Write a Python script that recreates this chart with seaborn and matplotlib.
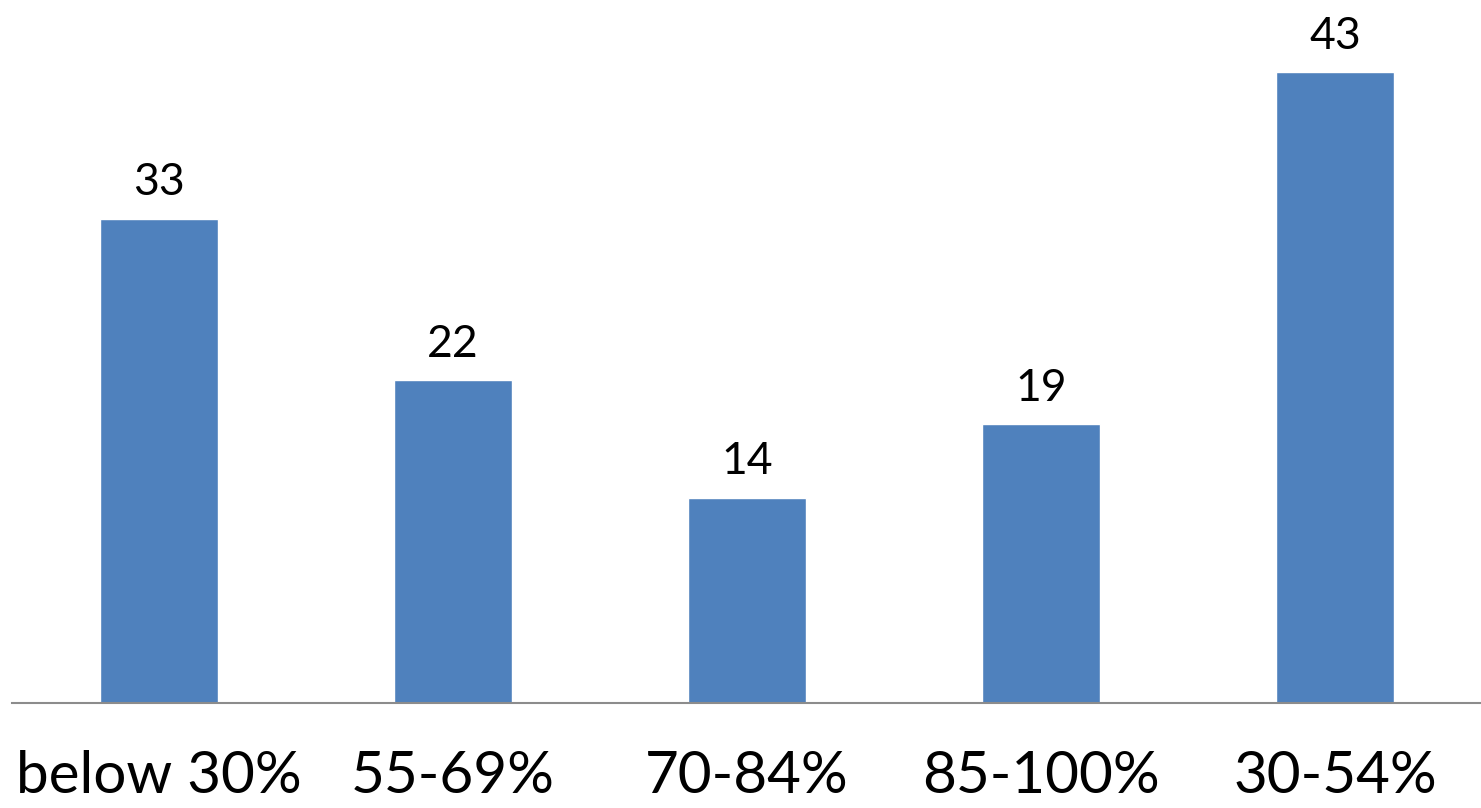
import seaborn as sns
import matplotlib.pyplot as plt
import pandas as pd

# categories in the order shown on the slide
categories = ["below 30%", "55-69%", "70-84%", "85-100%", "30-54%"]
counts = [33, 22, 14, 19, 43]

df = pd.DataFrame({"group": categories, "count": counts})

sns.set_style("white")
plt.rcParams["font.family"] = ["Lato", "DejaVu Sans"]
plt.rcParams["text.color"] = "black"
plt.rcParams["xtick.color"] = "black"

fig = plt.figure(figsize=(14.81, 8.08), dpi=100)
ax = fig.add_axes([12 / 1481, 105 / 808, 1470 / 1481, 703 / 808])

sns.barplot(data=df, x="group", y="count", color="#4F81BD",
            saturation=1, width=0.4, ax=ax)

ax.bar_label(ax.containers[0], fontsize=32, padding=11, color="black")

ax.set_xlim(-0.5, 4.5)
ax.set_ylim(0, 47.9)
ax.set_xlabel("")
ax.set_ylabel("")
ax.set_yticks([])
ax.tick_params(axis="x", length=0, labelsize=42, pad=34, labelcolor="black")

for side in ["top", "left", "right"]:
    ax.spines[side].set_visible(False)
ax.spines["bottom"].set_color("#8C8C8C")
ax.spines["bottom"].set_linewidth(1.5)

fig.savefig("out.png", dpi=100)
